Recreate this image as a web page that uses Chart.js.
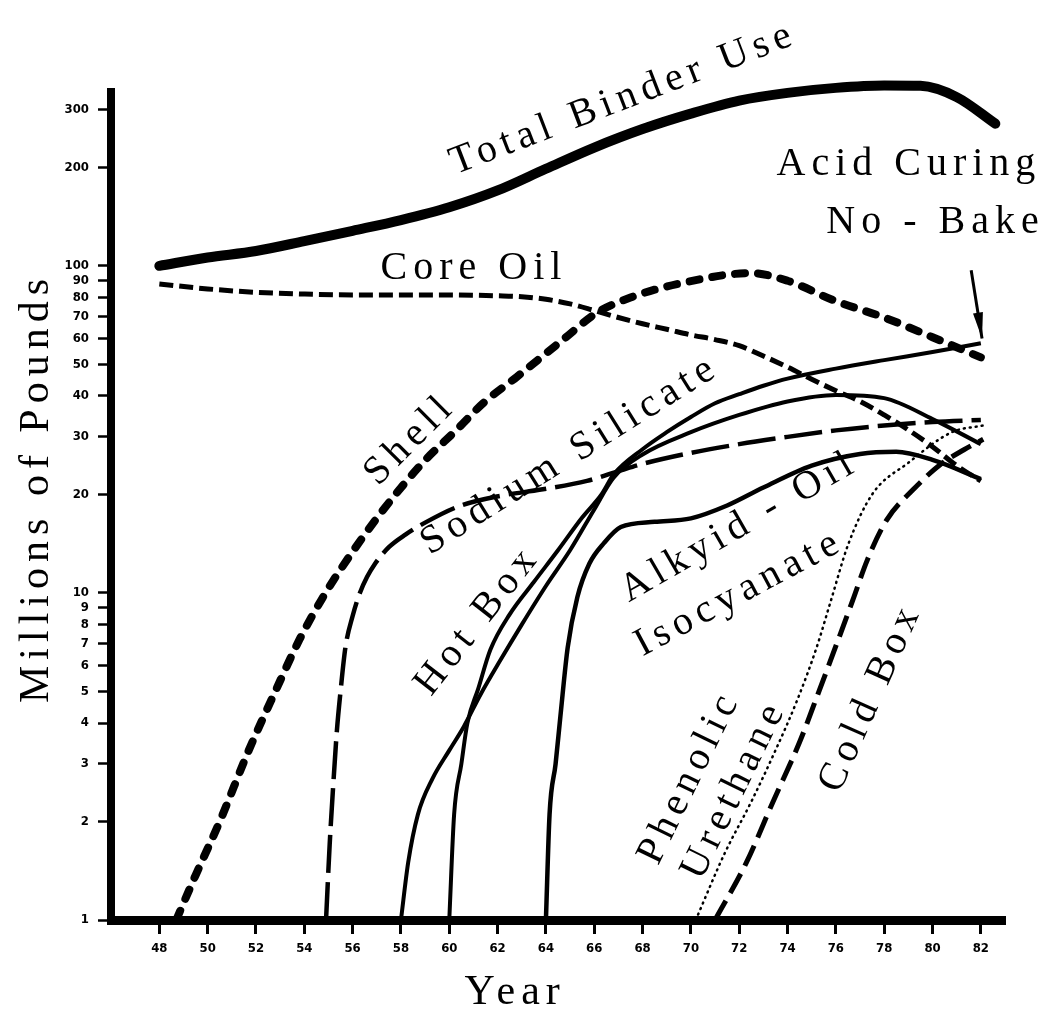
<!DOCTYPE html>
<html>
<head>
<meta charset="utf-8">
<title>Binder use</title>
<script src="https://cdn.jsdelivr.net/npm/chart.js@4.4.1/dist/chart.umd.min.js"></script>
<style>
  html, body { margin: 0; padding: 0; background: #fff; }
  #wrap { width: 1047px; height: 1016px; }
</style>
</head>
<body>
<div id="wrap"><canvas id="binder-chart" width="1047" height="1016"></canvas></div>
<script>
// tick labels
const xTicks = [48, 50, 52, 54, 56, 58, 60, 62, 64, 66, 68, 70, 72, 74, 76, 78, 80, 82];
const yTicks = [1, 2, 3, 4, 5, 6, 7, 8, 9, 10, 20, 30, 40, 50, 60, 70, 80, 90, 100, 200, 300];

// series, [year, millions of pounds]
const totalBinderUse = [[48, 100], [50, 106], [52, 111], [54, 119], [56, 128], [58, 138], [60, 151], [62, 170], [64, 198], [66, 230], [68, 262], [70, 292], [72, 320], [74, 338], [76, 350], [78, 356], [79.5, 355], [81, 328], [82.6, 272]];
const coreOil = [[48, 88], [50, 85], [52, 83], [54, 82], [56, 81.5], [58, 81.5], [60, 81.5], [62, 81], [63, 80.5], [64, 79], [65, 76.5], [66, 73], [67, 69.5], [68, 66.5], [69, 64], [70, 61.5], [71, 59.5], [72, 57], [73, 53], [74, 49], [75, 45], [76, 41.5], [77, 38.5], [78, 35], [79, 31.5], [80, 28], [81, 24.5], [82, 22]];
const shell = [[48.7, 1], [49.5, 1.37], [50.5, 2], [51.7, 3.3], [52.8, 5], [53.8, 7.2], [54.7, 9.5], [55.5, 11.8], [57.1, 17.3], [58.9, 25], [60.3, 31.5], [61.4, 38], [62.8, 45.8], [64.7, 59.4], [66.1, 71.8], [67.5, 80], [69.6, 88.5], [72.5, 95], [74, 90], [76, 78], [78, 69.5], [80, 60.5], [82, 52.5]];
const sodiumSilicate = [[54.9, 1], [55.05, 1.7], [55.2, 2.6], [55.35, 3.8], [55.5, 5], [55.7, 6.8], [56, 8.5], [56.3, 10], [56.6, 11.2], [56.9, 12.2], [57.5, 13.8], [58.2, 15.1], [59, 16.4], [60.4, 18.4], [62.1, 19.8], [63.8, 20.7], [65.7, 22], [67.1, 23.7], [68, 24.8], [70, 26.8], [72, 28.5], [74, 30], [76, 31.4], [78, 32.5], [80, 33.3], [82, 33.8]];
const hotBox = [[58, 1], [58.3, 1.5], [58.7, 2.1], [59.3, 2.7], [60, 3.3], [60.6, 3.9], [61.3, 4.9], [62.1, 6.2], [63, 8], [64, 10.5], [65, 13.5], [66, 18], [66.8, 22.5], [68, 26.5], [70, 31], [72, 35], [74, 38.5], [76, 40.3], [78, 39.4], [80, 34], [82, 28.5]];
const acidCuringNoBake = [[60, 1], [60.2, 2.1], [60.5, 3], [60.75, 4], [61.2, 5.1], [61.7, 6.7], [62.5, 8.6], [63.5, 10.8], [64.5, 13.5], [65.5, 17], [66.3, 20], [66.8, 23], [68, 27.5], [69, 31], [70, 34.5], [71, 38], [72, 40.5], [73, 43], [74, 45.2], [76, 48.5], [78, 51.5], [80, 54.5], [82, 58]];
const alkydOilIsocyanate = [[64, 1], [64.15, 2.1], [64.4, 3], [64.6, 4.2], [64.9, 6.8], [65.3, 9.7], [65.8, 12.3], [66.4, 14.2], [67.1, 15.9], [68.5, 16.5], [70, 16.9], [71.5, 18.5], [73, 21], [75, 24.5], [77, 26.6], [78.5, 27], [80, 25.5], [82, 22.3]];
const phenolicUrethane = [[70.2, 1], [71.4, 1.6], [72.5, 2.3], [73.5, 3.3], [74.4, 4.7], [75.2, 6.8], [75.8, 9.5], [76.5, 14], [77.5, 20], [79, 25], [80.8, 31], [82.1, 32.5]];
const coldBox = [[71, 1], [72.3, 1.5], [73.4, 2.3], [74.5, 3.5], [75.3, 5], [76.1, 7.2], [76.7, 9.5], [77.3, 12.6], [78.1, 16.7], [79.2, 20.7], [80.3, 24.6], [81.3, 27.4], [82.1, 29.5]];

// text written along the curves, placed in data coordinates
const curveLabels = [
    { text: 'Total Binder Use', x: 67.1, y: 322, angle: -21 },
    { text: 'Acid Curing', x: 78.9, y: 204, angle: 0 },
    { text: 'No - Bake', x: 80, y: 136, angle: 0 },
    { text: 'Core Oil', x: 60.9, y: 98, angle: 0 },
    { text: 'Shell', x: 58.3, y: 29, angle: -45 },
    { text: 'Sodium Silicate', x: 64.9, y: 26.1, angle: -32 },
    { text: 'Hot Box', x: 61.1, y: 8.1, angle: -52 },
    { text: 'Alkyid - Oil', x: 71.9, y: 15.8, angle: -30 },
    { text: 'Isocyanate', x: 71.9, y: 9.9, angle: -28 },
    { text: 'Phenolic', x: 69.9, y: 2.68, angle: -64 },
    { text: 'Urethane', x: 71.75, y: 2.46, angle: -64 },
    { text: 'Cold Box', x: 77.4, y: 4.7, angle: -66 },
];

const labelFont = '"Liberation Serif", "DejaVu Serif", serif';

const toPoints = rows => rows.map(r => ({ x: r[0], y: r[1] }));

const line = (label, rows, width, dash, cap) => ({
    label: label,
    data: toPoints(rows),
    borderColor: '#000',
    borderWidth: width,
    borderDash: dash || [],
    borderCapStyle: cap || 'butt',
    pointRadius: 0,
    fill: false,
    clip: false,
    cubicInterpolationMode: 'monotone',
});

const labelPlugin = {
    id: 'curveLabels',
    afterDraw(chart) {
        const { ctx, chartArea, scales: { x, y } } = chart;
        ctx.save();
        ctx.fillStyle = '#000';
        ctx.strokeStyle = '#000';
        ctx.textAlign = 'center';
        ctx.textBaseline = 'middle';
        ctx.font = '40px ' + labelFont;
        ctx.letterSpacing = '6px';
        curveLabels.forEach(l => {
            ctx.save();
            ctx.translate(x.getPixelForValue(l.x), y.getPixelForValue(l.y));
            ctx.rotate(l.angle * Math.PI / 180);
            ctx.fillText(l.text, 3, 0);
            ctx.restore();
        });

        // arrow from the "No - Bake" text down to the end of its curve
        const ax0 = x.getPixelForValue(81.6), ay0 = y.getPixelForValue(97);
        const ax1 = x.getPixelForValue(82.05), ay1 = y.getPixelForValue(60);
        const ang = Math.atan2(ay1 - ay0, ax1 - ax0);
        ctx.lineWidth = 3;
        ctx.beginPath();
        ctx.moveTo(ax0, ay0);
        ctx.lineTo(ax1, ay1);
        ctx.stroke();
        ctx.beginPath();
        ctx.moveTo(ax1, ay1);
        ctx.lineTo(ax1 - 26 * Math.cos(ang) + 5 * Math.sin(ang), ay1 - 26 * Math.sin(ang) - 5 * Math.cos(ang));
        ctx.lineTo(ax1 - 26 * Math.cos(ang) - 5 * Math.sin(ang), ay1 - 26 * Math.sin(ang) + 5 * Math.cos(ang));
        ctx.closePath();
        ctx.fill();

        // axis titles
        ctx.font = '42px ' + labelFont;
        ctx.fillText('Year', x.getPixelForValue(62.6) + 3, chartArea.bottom + 73);
        ctx.save();
        ctx.translate(37, y.getPixelForValue(20.5));
        ctx.rotate(-Math.PI / 2);
        ctx.fillText('Millions of Pounds', 3, 0);
        ctx.restore();
        ctx.restore();
    }
};

const tickFont = { family: '"Liberation Sans Narrow", "DejaVu Sans Condensed", "Liberation Sans", sans-serif', size: 13, weight: 'bold' };

const chart = new Chart(document.getElementById('binder-chart'), {
    type: 'line',
    data: {
        datasets: [
            line('Total Binder Use', totalBinderUse, 10, null, 'round'),
            line('Core Oil', coreOil, 5, [14, 6]),
            line('Shell', shell, 8, [10, 13], 'round'),
            line('Sodium Silicate', sodiumSilicate, 4.5, [38, 9]),
            line('Hot Box', hotBox, 4),
            line('Acid Curing No-Bake', acidCuringNoBake, 4),
            line('Alkyid - Oil Isocyanate', alkydOilIsocyanate, 4.5),
            line('Phenolic Urethane', phenolicUrethane, 2.5, [1, 5], 'round'),
            line('Cold Box', coldBox, 5, [22, 9]),
        ],
    },
    options: {
        responsive: false,
        animation: false,
        layout: { padding: { top: 92, right: 42, left: 0, bottom: 0 } },
        plugins: {
            legend: { display: false },
            tooltip: { enabled: false },
        },
        scales: {
            x: {
                type: 'linear',
                min: 46,
                max: 83,
                afterBuildTicks: s => { s.ticks = xTicks.map(v => ({ value: v })); },
                afterFit: s => { s.height = 96; },
                grid: { drawOnChartArea: false, drawTicks: true, tickLength: 14, tickColor: '#000', tickWidth: 3 },
                border: { display: true, color: '#000', width: 9 },
                ticks: { color: '#000', font: tickFont, padding: 7, maxRotation: 0, autoSkip: false, callback: v => String(v) },
            },
            y: {
                type: 'logarithmic',
                min: 1,
                max: 340,
                afterBuildTicks: s => { s.ticks = yTicks.map(v => ({ value: v })); },
                afterFit: s => { s.width = 111; },
                grid: { drawOnChartArea: false, drawTicks: true, tickLength: 13, tickColor: '#000', tickWidth: 2.5 },
                border: { display: true, color: '#000', width: 8 },
                ticks: { color: '#000', font: tickFont, padding: 9, autoSkip: false, callback: v => String(v) },
            },
        },
    },
    plugins: [labelPlugin],
});
</script>
</body>
</html>
